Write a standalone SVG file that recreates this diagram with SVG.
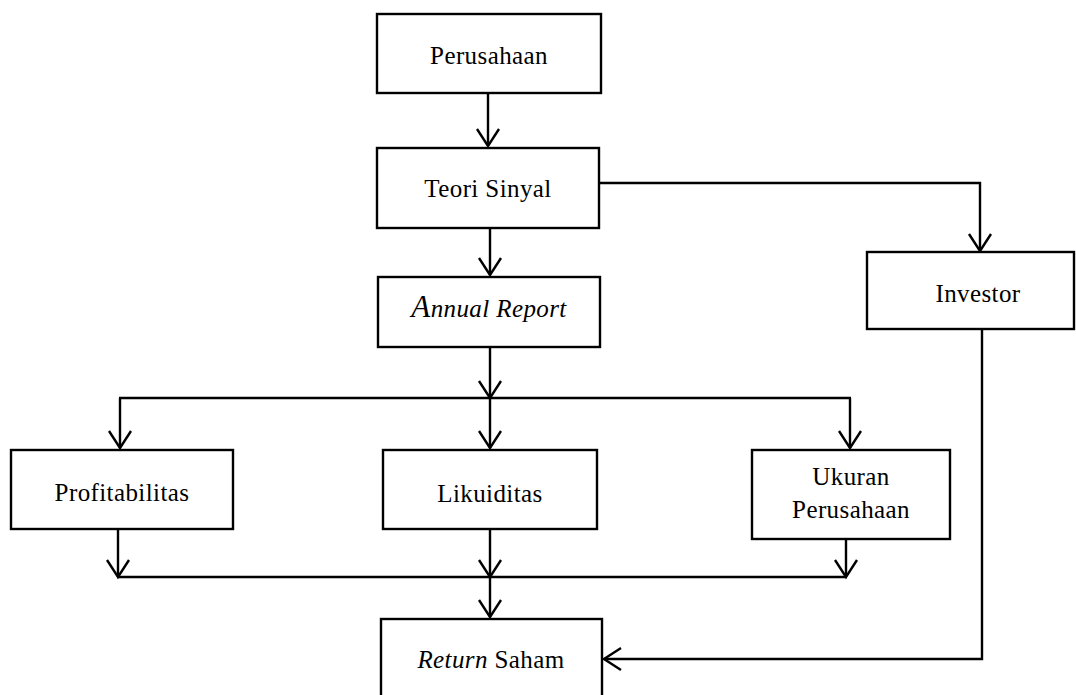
<svg xmlns="http://www.w3.org/2000/svg" width="1076" height="695" viewBox="0 0 1076 695">
<defs>
<marker id="arr" markerUnits="userSpaceOnUse" markerWidth="30" markerHeight="30" refX="0" refY="0" viewBox="-20 -15 24 30" orient="auto" overflow="visible">
<path d="M-17,-11 L0,0 L-17,11" fill="none" stroke="#000" stroke-width="2.4"/>
</marker>
<style>
.box{fill:#fff;stroke:#000;stroke-width:2.4}
.t{font-family:"Palatino Linotype","Book Antiqua","Liberation Serif",serif;font-size:25px;fill:#000;text-anchor:middle;letter-spacing:0.4px}
.c path{fill:none;stroke:#000;stroke-width:2.4}
.a{marker-end:url(#arr)}
</style>
</defs>
<rect width="1076" height="695" fill="#fff"/>
<g class="c" id="connectors">
<path class="a" d="M488,93 L488,146"/>
<path class="a" d="M599,183 L980,183 L980,251"/>
<path class="a" d="M490,228 L490,275"/>
<path class="a" d="M490,347 L490,398"/>
<path d="M119,398 L851,398"/>
<path class="a" d="M120,398 L120,448"/>
<path class="a" d="M490,398 L490,448"/>
<path class="a" d="M850,398 L850,448"/>
<path class="a" d="M118,529 L118,577"/>
<path class="a" d="M490,529 L490,577"/>
<path class="a" d="M846,539 L846,577"/>
<path d="M117,577 L847,577"/>
<path class="a" d="M490,577 L490,617"/>
<path class="a" d="M982,329 L982,659 L604,659"/>
</g>
<g id="perusahaan"><rect class="box" x="377" y="14" width="224" height="79"/><text class="t" x="489" y="64">Perusahaan</text></g>
<g id="teori"><rect class="box" x="377" y="148" width="222" height="80"/><text class="t" x="488" y="197">Teori Sinyal</text></g>
<g id="investor"><rect class="box" x="867" y="252" width="207" height="77"/><text class="t" x="978" y="302">Investor</text></g>
<g id="annual"><rect class="box" x="378" y="277" width="222" height="70"/><text class="t" x="489" y="317" font-style="italic"><tspan font-size="31">A</tspan>nnual Report</text></g>
<g id="profit"><rect class="box" x="11" y="450" width="222" height="79"/><text class="t" x="122" y="501">Profitabilitas</text></g>
<g id="likuid"><rect class="box" x="383" y="450" width="214" height="79"/><text class="t" x="490" y="502">Likuiditas</text></g>
<g id="ukuran"><rect class="box" x="752" y="450" width="198" height="89"/><text class="t" x="851" y="485">Ukuran</text><text class="t" x="851" y="518">Perusahaan</text></g>
<g id="return"><rect class="box" x="381" y="619" width="221" height="90"/><text class="t" x="491" y="668"><tspan font-style="italic">Return</tspan> Saham</text></g>
</svg>
